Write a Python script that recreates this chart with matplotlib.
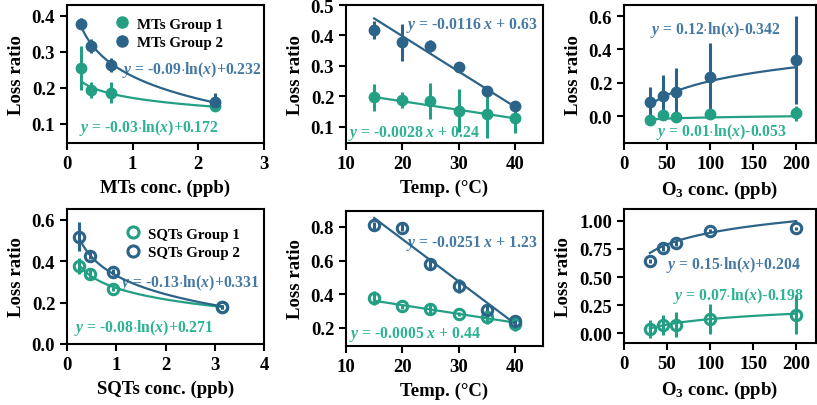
import matplotlib
matplotlib.use('Agg')
import matplotlib.pyplot as plt
from matplotlib.lines import Line2D
import numpy as np

plt.rcParams['font.family'] = ['Liberation Serif', 'DejaVu Serif']
plt.rcParams['font.weight'] = 'bold'
plt.rcParams['mathtext.fontset'] = 'custom'
plt.rcParams['mathtext.rm'] = 'Liberation Serif:bold'
plt.rcParams['mathtext.it'] = 'Liberation Serif:italic:bold'
plt.rcParams['axes.linewidth'] = 1.5

TEAL = '#23a084'
BLUE = '#2c6388'
TEAL_TXT = '#2db294'
BLUE_TXT = '#4479a3'

# ---- data ----
mts_x = [0.22, 0.36, 0.67, 2.25]
mts_g1 = [0.255, 0.193, 0.187, 0.150]
mts_g1_err = [0.060, 0.022, 0.030, 0.015]
mts_g2 = [0.378, 0.316, 0.263, 0.162]
mts_g2_err = [0.015, 0.020, 0.020, 0.025]

temp_x = [15, 20, 25, 30, 35, 40]
mt_temp_g1 = [0.197, 0.188, 0.185, 0.153, 0.142, 0.130]
mt_temp_g1_err = [0.045, 0.025, 0.060, 0.070, 0.080, 0.050]
mt_temp_g2 = [0.418, 0.377, 0.365, 0.298, 0.218, 0.170]
mt_temp_g2_err = [0.030, 0.060, 0.020, 0.015, 0.015, 0.012]

o3_x = [30, 45, 60, 100, 200]
mt_o3_g1 = [-0.020, 0.005, -0.003, 0.015, 0.018]
mt_o3_g1_err = [0.020, 0.015, 0.010, 0.020, 0.045]
mt_o3_g2 = [0.085, 0.120, 0.145, 0.237, 0.337]
mt_o3_g2_err = [0.090, 0.125, 0.145, 0.200, 0.265]

sqts_x = [0.25, 0.46, 0.94, 3.15]
sqts_g1 = [0.378, 0.340, 0.268, 0.178]
sqts_g1_err = [0.040, 0.025, 0.010, 0.010]
sqts_g2 = [0.518, 0.428, 0.348, 0.180]
sqts_g2_err = [0.070, 0.015, 0.015, 0.010]

sq_temp_g1 = [0.378, 0.330, 0.310, 0.283, 0.265, 0.225]
sq_temp_g1_err = [0.040, 0.015, 0.035, 0.010, 0.040, 0.040]
sq_temp_g2 = [0.810, 0.795, 0.580, 0.450, 0.305, 0.240]
sq_temp_g2_err = [0.020, 0.020, 0.030, 0.040, 0.030, 0.040]

sq_o3_g1 = [0.035, 0.070, 0.075, 0.125, 0.165]
sq_o3_g1_err = [0.080, 0.090, 0.110, 0.130, 0.170]
sq_o3_g2 = [0.645, 0.755, 0.800, 0.910, 0.935]
sq_o3_g2_err = [0.020, 0.020, 0.020, 0.015, 0.015]

# fit coefficients (a, b): log fits y = a*ln(x)+b, linear y = a*x+b
fit_mts = [(-0.03, 0.172), (-0.09, 0.232)]
fit_mt_temp = [(-0.0028, 0.24), (-0.0116, 0.63)]
fit_mt_o3 = [(0.01, -0.053), (0.12, -0.342)]
fit_sqts = [(-0.08, 0.271), (-0.13, 0.331)]
fit_sq_temp = [(-0.0052, 0.44), (-0.0251, 1.23)]
fit_sq_o3 = [(0.07, -0.198), (0.15, 0.204)]

eq_mts = [r'$y$ = -0.03$\cdot$ln($x$)+0.172', r'$y$ = -0.09$\cdot$ln($x$)+0.232']
eq_mt_temp = [r'$y$ = -0.0028 $x$ + 0.24', r'$y$ = -0.0116 $x$ + 0.63']
eq_mt_o3 = [r'$y$ = 0.01$\cdot$ln($x$)-0.053', r'$y$ = 0.12$\cdot$ln($x$)-0.342']
eq_sqts = [r'$y$ = -0.08$\cdot$ln($x$)+0.271', r'$y$ = -0.13$\cdot$ln($x$)+0.331']
eq_sq_temp = [r'$y$ = -0.0005 $x$ + 0.44', r'$y$ = -0.0251 $x$ + 1.23']
eq_sq_o3 = [r'$y$ = 0.07$\cdot$ln($x$)-0.198', r'$y$ = 0.15$\cdot$ln($x$)+0.204']

W, H = 817, 406
fig = plt.figure(figsize=(W / 100, H / 100), dpi=100)


def make_ax(left, right, top, bottom):
    return fig.add_axes([left / W, 1 - bottom / H, (right - left) / W, (bottom - top) / H])


def panel(ax, x, groups, fits, kind, eqs, eq_pos, hollow, xlim, ylim, xticks, yticks,
          yfmt, xlabel, labels=None, leg_anchor=None):
    colors = [TEAL, BLUE]
    txt_colors = [TEAL_TXT, BLUE_TXT]
    x = np.array(x, dtype=float)
    xx = np.linspace(x.min(), x.max(), 200)
    for i, (y, err) in enumerate(groups):
        a, b = fits[i]
        yy = a * np.log(xx) + b if kind == 'log' else a * xx + b
        ax.plot(xx, yy, color=colors[i], lw=1.6, zorder=2)
        if hollow:
            ax.errorbar(x, y, yerr=err, fmt='o', ms=7.5, mfc='none', mec=colors[i], mew=2.2,
                        ecolor=colors[i], elinewidth=2.2, capsize=0, zorder=3)
        else:
            ax.errorbar(x, y, yerr=err, fmt='o', ms=7.5, color=colors[i],
                        ecolor=colors[i], elinewidth=2.2, capsize=0, zorder=3)
        ax.text(eq_pos[i][0], eq_pos[i][1], eqs[i], color=txt_colors[i], fontsize=11.3,
                fontweight='bold', va='center', ha='left', zorder=1)
    ax.set_xlim(*xlim)
    ax.set_ylim(*ylim)
    ax.set_xticks(xticks)
    ax.set_yticks(yticks)
    ax.set_yticklabels([yfmt.format(v) for v in yticks])
    ax.tick_params(labelsize=13.5, width=1.5, length=5, direction='out')
    ax.set_xlabel(xlabel, fontsize=13.5, fontweight='bold', labelpad=5)
    ax.set_ylabel('Loss ratio', fontsize=13.5, fontweight='bold', labelpad=5)
    if labels:
        handles = []
        for c in colors:
            if hollow:
                handles.append(Line2D([], [], ls='none', marker='o', ms=8, mfc='none',
                                      mec=c, mew=2.2))
            else:
                handles.append(Line2D([], [], ls='none', marker='o', ms=8, color=c))
        leg = ax.legend(handles, labels, loc='upper left', frameon=False, fontsize=10.8,
                        handletextpad=0.5, borderaxespad=0, labelspacing=0.35,
                        handlelength=1.0, bbox_to_anchor=leg_anchor)
        for t in leg.get_texts():
            t.set_fontweight('bold')


ax1 = make_ax(67, 264, 6, 144)
panel(ax1, mts_x, [(mts_g1, mts_g1_err), (mts_g2, mts_g2_err)], fit_mts, 'log', eq_mts,
      [(0.18, 0.092), (0.84, 0.253)], False, (0, 3), (0.047, 0.43), [0, 1, 2, 3],
      [0.1, 0.2, 0.3, 0.4], '{:.1f}', 'MTs conc. (ppb)', ['MTs Group 1', 'MTs Group 2'],
      leg_anchor=(0.21, 0.955))

ax2 = make_ax(346, 543, 6, 144)
panel(ax2, temp_x, [(mt_temp_g1, mt_temp_g1_err), (mt_temp_g2, mt_temp_g2_err)], fit_mt_temp,
      'lin', eq_mt_temp, [(10.4, 0.083), (20.6, 0.437)], False, (10, 45), (0.047, 0.5),
      [10, 20, 30, 40], [0.1, 0.2, 0.3, 0.4, 0.5], '{:.1f}', 'Temp. (\u00b0C)')

ax3 = make_ax(624, 816, 6, 144)
panel(ax3, o3_x, [(mt_o3_g1, mt_o3_g1_err), (mt_o3_g2, mt_o3_g2_err)], fit_mt_o3, 'log',
      eq_mt_o3, [(37, -0.09), (30, 0.52)], False, (0, 223), (-0.16, 0.666),
      [0, 50, 100, 150, 200], [0.0, 0.2, 0.4, 0.6], '{:.1f}', r'O$_3$ conc. (ppb)')

ax4 = make_ax(67, 264, 210, 345)
panel(ax4, sqts_x, [(sqts_g1, sqts_g1_err), (sqts_g2, sqts_g2_err)], fit_sqts, 'log', eq_sqts,
      [(0.14, 0.083), (1.08, 0.30)], True, (0, 4), (0, 0.653), [0, 1, 2, 3, 4],
      [0.0, 0.2, 0.4, 0.6], '{:.1f}', 'SQTs conc. (ppb)', ['SQTs Group 1', 'SQTs Group 2'],
      leg_anchor=(0.265, 0.91))

ax5 = make_ax(346, 543, 212, 347)
panel(ax5, temp_x, [(sq_temp_g1, sq_temp_g1_err), (sq_temp_g2, sq_temp_g2_err)], fit_sq_temp,
      'lin', eq_sq_temp, [(10.5, 0.17), (20.6, 0.71)], True, (10, 45), (0.093, 0.895),
      [10, 20, 30, 40], [0.2, 0.4, 0.6, 0.8], '{:.1f}', 'Temp. (\u00b0C)')

ax6 = make_ax(624, 816, 210, 344)
panel(ax6, o3_x, [(sq_o3_g1, sq_o3_g1_err), (sq_o3_g2, sq_o3_g2_err)], fit_sq_o3, 'log',
      eq_sq_o3, [(57, 0.34), (49, 0.616)], True, (0, 223), (-0.089, 1.107),
      [0, 50, 100, 150, 200], [0.0, 0.25, 0.5, 0.75, 1.0], '{:.2f}', r'O$_3$ conc. (ppb)')

fig.savefig('out.png', dpi=100)
